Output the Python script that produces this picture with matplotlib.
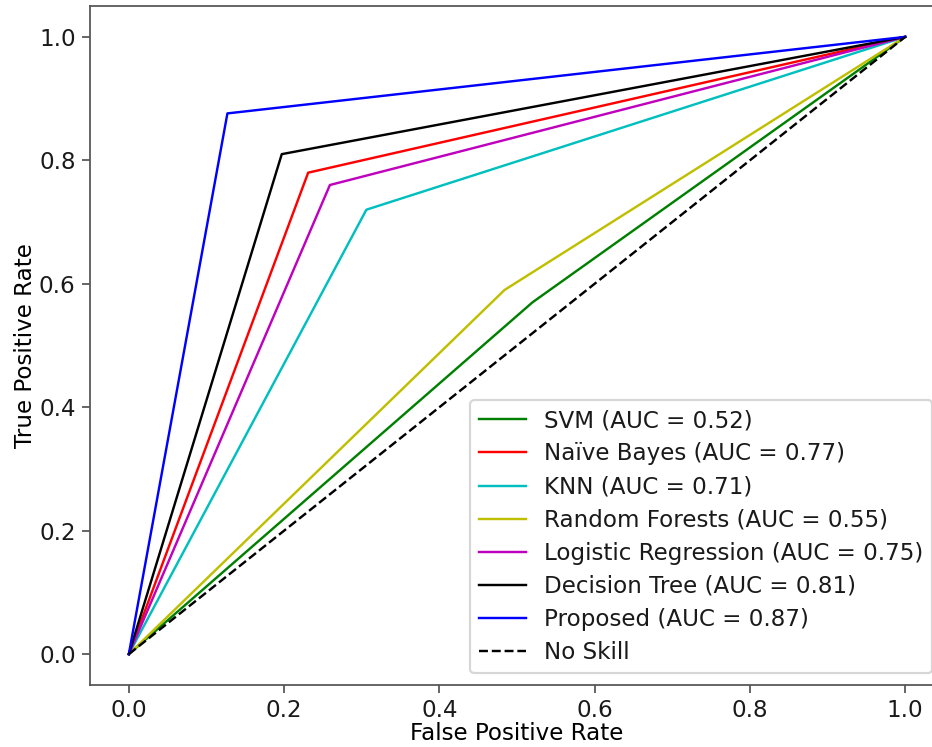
import numpy as np
import matplotlib
matplotlib.use("Agg")
import matplotlib.pyplot as plt

# ROC operating points (single threshold -> one kink)
models = ["SVM", "Naïve Bayes", "KNN", "Random Forests",
          "Logistic Regression", "Decision Tree", "Proposed"]
auc = [0.52, 0.77, 0.71, 0.55, 0.75, 0.81, 0.87]
fpr_pt = [0.520, 0.231, 0.306, 0.484, 0.259, 0.197, 0.127]
tpr_pt = [0.570, 0.780, 0.720, 0.590, 0.760, 0.810, 0.876]
colors = ["g", "r", "c", "y", "m", "k", "b"]

plt.rcParams["font.size"] = 10.5
plt.rcParams["text.color"] = "#1a1a1a"
plt.rcParams["xtick.labelcolor"] = "#1a1a1a"
plt.rcParams["ytick.labelcolor"] = "#1a1a1a"

DPI = 158
fig = plt.figure(figsize=(932 / DPI, 747 / DPI), dpi=DPI)
ax = fig.add_axes([90 / 932, 1 - 685 / 747, (944 - 90) / 932, (685 - 6) / 747])

for name, a, fx, ty, c in zip(models, auc, fpr_pt, tpr_pt, colors):
    ax.plot([0, fx, 1], [0, ty, 1], color=c, lw=1.1, label=f"{name} (AUC = {a:.2f})")
ax.plot([0, 1], [0, 1], "k--", lw=1.1, label="No Skill")

ax.set_xlabel("False Positive Rate", labelpad=0)
ax.set_ylabel("True Positive Rate", labelpad=1)
for sp in ax.spines.values():
    sp.set_color("#555555")
ax.tick_params(color="#555555", pad=3)
ax.legend(loc="lower right", handletextpad=0.8, labelspacing=0.44)

fig.savefig("out.png", dpi=DPI)
